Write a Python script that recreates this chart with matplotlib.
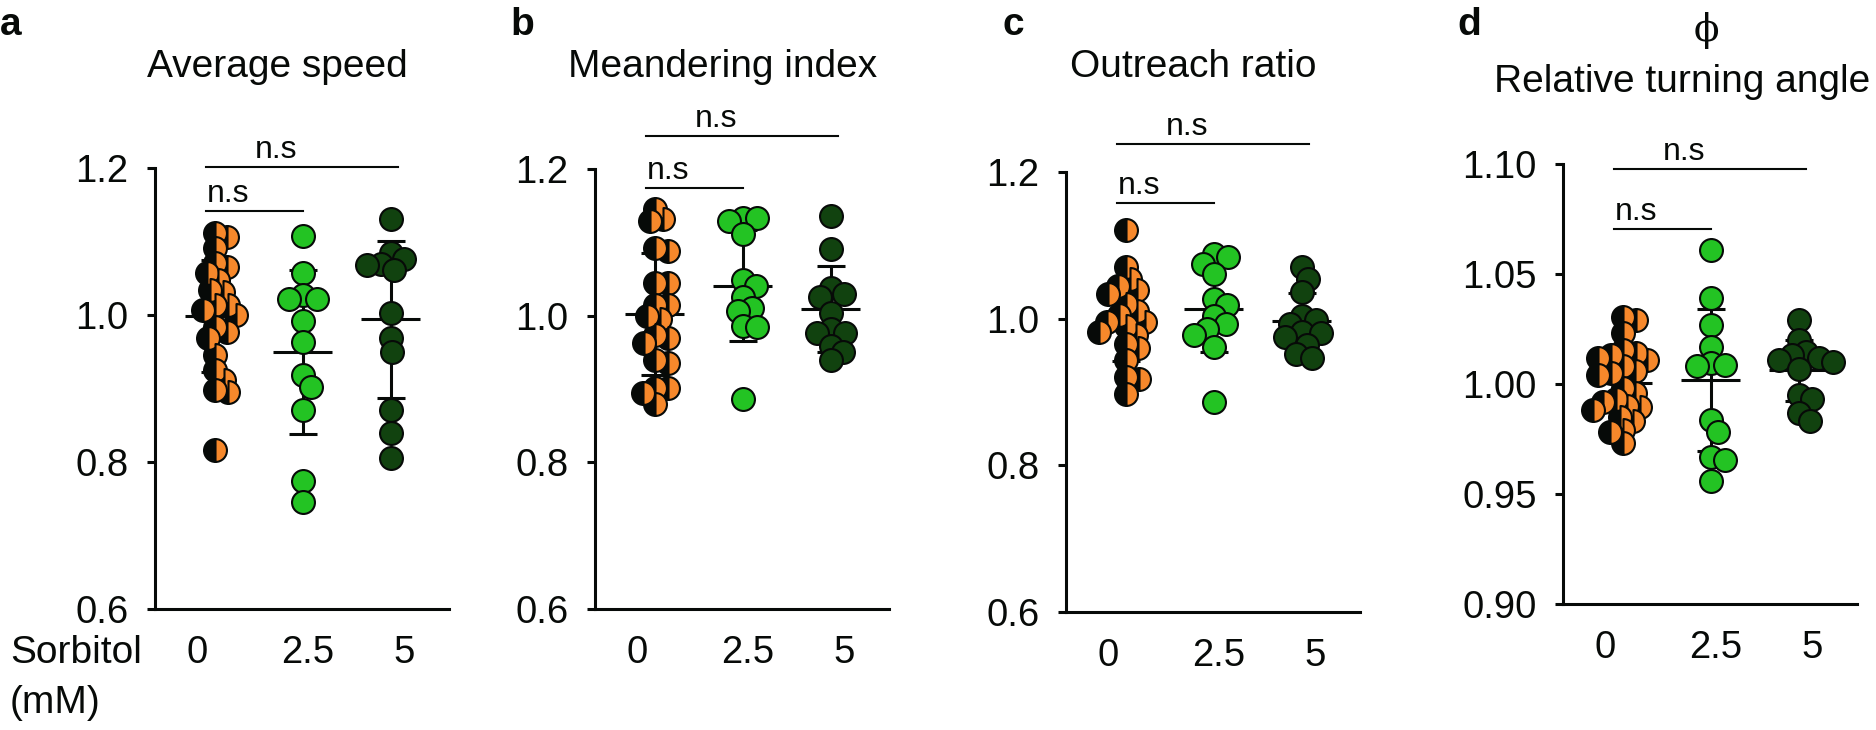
import numpy as np
import matplotlib
matplotlib.use("Agg")
import matplotlib.pyplot as plt

plt.rcParams['font.family'] = ['Liberation Sans', 'DejaVu Sans']

# Gruppen (Sorbitol in mM)
GROUPS = ["0", "2.5", "5"]

# a - Average speed
SPEED_0 = [1.111, 1.106, 1.091, 1.071, 1.065, 1.057, 1.048, 1.034, 1.031, 1.014, 1.014,
           1.007, 1.000, 0.984, 0.977, 0.969, 0.946, 0.925, 0.912, 0.898, 0.895, 0.816]
SPEED_25 = [1.108, 1.057, 1.027, 1.022, 1.022, 0.992, 0.963, 0.918, 0.902, 0.871, 0.774, 0.746]
SPEED_5 = [1.131, 1.084, 1.076, 1.070, 1.068, 1.061, 1.003, 0.969, 0.950, 0.871, 0.839, 0.805]

# b - Meandering index
MEANDER_0 = [1.146, 1.132, 1.129, 1.092, 1.088, 1.044, 1.044, 1.014, 1.014, 1.000, 0.996,
             0.973, 0.969, 0.963, 0.939, 0.936, 0.902, 0.901, 0.895, 0.880]
MEANDER_25 = [1.133, 1.133, 1.129, 1.111, 1.048, 1.041, 1.025, 1.010, 1.007, 0.986, 0.984, 0.886]
MEANDER_5 = [1.136, 1.091, 1.038, 1.030, 1.025, 1.004, 0.982, 0.977, 0.977, 0.959, 0.950, 0.939]

# c - Outreach ratio
OUTREACH_0 = [1.121, 1.071, 1.054, 1.045, 1.039, 1.033, 1.020, 1.010, 1.005, 0.996, 0.996,
              0.990, 0.982, 0.978, 0.966, 0.960, 0.944, 0.921, 0.918, 0.897]
OUTREACH_25 = [1.088, 1.084, 1.075, 1.061, 1.027, 1.019, 1.003, 0.993, 0.986, 0.978, 0.962, 0.886]
OUTREACH_5 = [1.071, 1.054, 1.037, 1.003, 0.998, 0.993, 0.982, 0.980, 0.975, 0.964, 0.952, 0.946]

# d - Relative turning angle
ANGLE_0 = [1.0305, 1.029, 1.023, 1.0155, 1.014, 1.013, 1.012, 1.011, 1.008, 1.006, 1.005, 1.004,
           0.998, 0.996, 0.993, 0.992, 0.990, 0.9895, 0.988, 0.985, 0.983, 0.979, 0.978, 0.973]
ANGLE_25 = [1.061, 1.039, 1.027, 1.017, 1.0095, 1.0086, 1.008, 0.9836, 0.978, 0.967, 0.9655, 0.956]
ANGLE_5 = [1.029, 1.020, 1.0146, 1.013, 1.0118, 1.011, 1.010, 1.007, 0.995, 0.993, 0.987, 0.983]

# Signifikanz-Klammern (y-Höhe der Linien: 0 vs 5, 0 vs 2.5)
BRACKET_HIGH = [1.2014, 1.245, 1.238, 1.0977]
BRACKET_LOW = [1.1415, 1.174, 1.158, 1.0704]

TITLES = ["Average speed", "Meandering index", "Outreach ratio", "Relative turning angle"]
LETTERS = ["a", "b", "c", "d"]
YTICKS_STD = [0.6, 0.8, 1.0, 1.2]
YTICKS_ANGLE = [0.90, 0.95, 1.00, 1.05, 1.10]

BLACK = "#070a08"
ORANGE = "#f6882b"
LIGHT_GREEN = "#23c323"
DARK_GREEN = "#11420f"

W, H = 1876, 730


def fx(px):
    return px / W


def fy(py):
    return 1 - py / H


def swarm_x(ax, fig, values, center, dmin_px):
    """Einfacher Beeswarm in Pixeln, Punkte dürfen sich teilweise überdecken."""
    pos = ax.get_position()
    x0, x1 = ax.get_xlim()
    y0, y1 = ax.get_ylim()
    px_x = pos.width * fig.get_figwidth() * fig.dpi / (x1 - x0)
    px_y = pos.height * fig.get_figheight() * fig.dpi / (y1 - y0)
    vals = np.asarray(values)
    order = np.argsort(-vals, kind="stable")
    cands = [0.0]
    for k in range(1, 400):
        cands += [k * 0.5, -k * 0.5]
    placed = []
    xs = np.zeros(len(vals))
    for i in order:
        ypx = vals[i] * px_y
        for c in cands:
            if all((c - px) ** 2 + (ypx - py) ** 2 >= dmin_px ** 2 for px, py in placed):
                break
        placed.append((c, ypx))
        xs[i] = center + c / px_x
    return xs


fig = plt.figure(figsize=(W / 100, H / 100), dpi=100)

panels = [
    (SPEED_0, SPEED_25, SPEED_5),
    (MEANDER_0, MEANDER_25, MEANDER_5),
    (OUTREACH_0, OUTREACH_25, OUTREACH_5),
    (ANGLE_0, ANGLE_25, ANGLE_5),
]
# Achsenrahmen in Pixeln: links, oben, unten
frames = [(155, 168, 609), (595, 169, 609), (1066, 172, 612), (1563, 164, 604)]
title_pos = [(277, 77), (723, 77), (1193, 77), (1682, 92)]
letter_x = [0, 510, 1002, 1457]
# minimaler Punktabstand im Schwarm (px): Kontrollgruppe dichter gepackt
swarm_gap = [13, 14, 14]

for k, (groups, (left, top, bottom)) in enumerate(zip(panels, frames)):
    ax = fig.add_axes([fx(left), fy(bottom), fx(294), (bottom - top) / H])
    ax.set_xlim(-0.68, 2.66)
    if k == 3:
        ax.set_ylim(0.90, 1.10)
        ax.set_yticks(YTICKS_ANGLE)
        ax.set_yticklabels([f"{t:.2f}" for t in YTICKS_ANGLE])
    else:
        ax.set_ylim(0.6, 1.2)
        ax.set_yticks(YTICKS_STD)
        ax.set_yticklabels([f"{t:.1f}" for t in YTICKS_STD])
    ax.set_xticks([-0.2, 1.05, 2.15])
    ax.set_xticklabels(GROUPS)

    for side in ["top", "right"]:
        ax.spines[side].set_visible(False)
    for side in ["left", "bottom"]:
        ax.spines[side].set_linewidth(2.2)
        ax.spines[side].set_color(BLACK)
    ax.tick_params(axis="y", length=6, width=2.2, pad=13, labelsize=27.5, colors=BLACK)
    ax.tick_params(axis="x", length=0, pad=19, labelsize=27.5, colors=BLACK)

    colors = [None, LIGHT_GREEN, DARK_GREEN]
    for g, vals in enumerate(groups):
        xs = swarm_x(ax, fig, vals, g, swarm_gap[g])
        m = np.mean(vals)
        s = np.std(vals, ddof=1)
        ax.hlines(m, g - 0.335, g + 0.335, color=BLACK, lw=2.2, zorder=2)
        ax.vlines(g, m - s, m + s, color=BLACK, lw=2.2, zorder=2)
        ax.hlines([m - s, m + s], g - 0.16, g + 0.16, color=BLACK, lw=2.2, zorder=2)
        if g == 0:
            ax.plot(xs, vals, "o", ls="none", ms=16.5, mfc=BLACK, mfcalt=ORANGE,
                    fillstyle="left", mec=BLACK, mew=1.5, zorder=3, clip_on=False)
        else:
            ax.plot(xs, vals, "o", ls="none", ms=16.5, mfc=colors[g],
                    mec=BLACK, mew=1.5, zorder=3, clip_on=False)

    # n.s Klammern
    yh, yl = BRACKET_HIGH[k], BRACKET_LOW[k]
    ax.plot([-0.1, 2.08], [yh, yh], color=BLACK, lw=1.5, clip_on=False)
    ax.plot([-0.1, 1.0], [yl, yl], color=BLACK, lw=1.5, clip_on=False)
    ax.annotate("n.s", (0.7, yh), xytext=(0, 6.5), textcoords="offset points",
                ha="center", va="baseline", fontsize=23, color=BLACK, annotation_clip=False)
    ax.annotate("n.s", (-0.09, yl), xytext=(0, 6.5), textcoords="offset points",
                ha="left", va="baseline", fontsize=23, color=BLACK, annotation_clip=False)

    tx, ty = title_pos[k]
    fig.text(fx(tx), fy(ty), TITLES[k], ha="center", va="baseline", fontsize=28, color=BLACK)
    fig.text(fx(letter_x[k]), fy(35), LETTERS[k], ha="left", va="baseline",
             fontsize=28, fontweight="bold", color=BLACK)

fig.text(fx(1706), fy(41), "\u03d5", ha="center", va="baseline", fontsize=27,
         family=["DejaVu Serif"], color=BLACK)
fig.text(fx(10), fy(663), "Sorbitol", ha="left", va="baseline", fontsize=28, color=BLACK)
fig.text(fx(10), fy(713), "(mM)", ha="left", va="baseline", fontsize=28, color=BLACK)

fig.savefig("out.png", dpi=100)
